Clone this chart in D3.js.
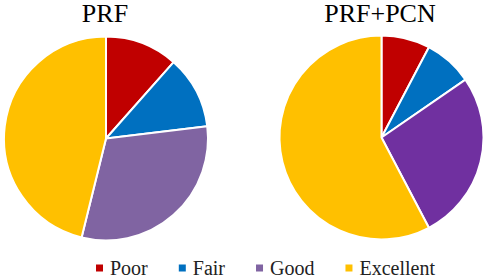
<!DOCTYPE html>
<html>
<head>
<meta charset="utf-8">
<script src="https://cdn.jsdelivr.net/npm/d3@7"></script>
<style>
  html, body { margin: 0; padding: 0; background: #fff; }
  svg { display: block; }
  svg text { font-family: 'Liberation Serif', 'Times New Roman', serif; }
</style>
</head>
<body>
<div id="chart"></div>
<script>
// Data
const categories = ['Poor', 'Fair', 'Good', 'Excellent'];
const prfValues = [3, 3, 8, 12];
const prfPcnValues = [2, 2, 7, 15];
const titles = ['PRF', 'PRF+PCN'];

const width = 486;
const height = 278;

const svg = d3.select('#chart').append('svg')
    .attr('width', width)
    .attr('height', height);

// Colours (the two pies use slightly different purples)
const palettes = [
    ['#C00000', '#0070C0', '#8064A2', '#FFC000'],
    ['#C00000', '#0070C0', '#7030A0', '#FFC000']
];
const legendColor = d3.scaleOrdinal()
    .domain(categories)
    .range(['#C00000', '#0070C0', '#8064A2', '#FFC000']);

const radius = 102;
const pies = [
    { title: titles[0], values: prfValues, cx: 106, cy: 138.5, titleX: 105 },
    { title: titles[1], values: prfPcnValues, cx: 381.5, cy: 137.5, titleX: 380 }
];

const pie = d3.pie().sort(null).value(d => d.value);
const arc = d3.arc().innerRadius(0).outerRadius(radius);

pies.forEach((p, i) => {
    const color = d3.scaleOrdinal().domain(categories).range(palettes[i]);
    const data = categories.map((c, j) => ({ category: c, value: p.values[j] }));

    const g = svg.append('g')
        .attr('transform', `translate(${p.cx},${p.cy})`);

    g.selectAll('path')
        .data(pie(data))
        .join('path')
        .attr('d', arc)
        .attr('fill', d => color(d.data.category))
        .attr('stroke', '#fff')
        .attr('stroke-width', 2)
        .attr('stroke-linejoin', 'round');

    svg.append('text')
        .attr('x', p.titleX)
        .attr('y', 22)
        .attr('text-anchor', 'middle')
        .style('font-size', '26px')
        .attr('fill', '#000')
        .text(p.title);
});

// Legend
const legend = svg.append('g').attr('class', 'legend');
let x = 96;
categories.forEach(c => {
    const item = legend.append('g');
    item.append('rect')
        .attr('x', x)
        .attr('y', 264.5)
        .attr('width', 7)
        .attr('height', 7)
        .attr('fill', legendColor(c));
    const t = item.append('text')
        .attr('x', x + 14)
        .attr('y', 275)
        .style('font-size', '20px')
        .attr('fill', '#222')
        .text(c);
    x += 14 + t.node().getComputedTextLength() + 31;
});
</script>
</body>
</html>
